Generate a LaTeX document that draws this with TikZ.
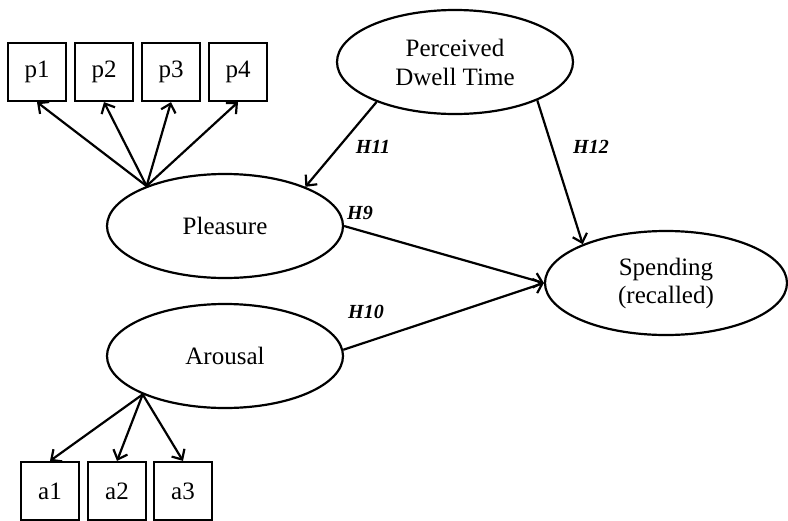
\documentclass[tikz,border=0pt]{standalone}
\usepackage{fontspec}
\setmainfont{Liberation Serif}
\usetikzlibrary{arrows.meta,shapes}
\tikzset{
  latent/.style = {ellipse, draw=black, line width=2.2pt, minimum width=236pt,
    minimum height=104pt, inner sep=0pt, align=center,
    font=\fontsize{25}{28}\selectfont},
  item/.style = {rectangle, draw=black, line width=2.2pt, minimum size=58pt,
    inner sep=0pt, font=\fontsize{25}{28}\selectfont},
  hyp/.style = {inner sep=0pt, font=\fontsize{20}{22}\selectfont\bfseries\itshape},
  dedge/.style = {draw, line width=2.2pt, -{Straight Barb[length=8pt,width=15pt]}},
}

\begin{document}
\begin{tikzpicture}[x=1pt,y=-1pt]
                    \path [use as bounding box] (0,0) rectangle (788,520);

                    % latent constructs
                    \node[latent] (dw) at (455,62) {Perceived\\[1pt]Dwell Time};
                    \node[latent] (pl) at (225,226) {Pleasure};
                    \node[latent] (ar) at (225,356) {Arousal};
                    \node[latent, minimum width=242pt] (sp) at (666,283) {Spending\\(recalled)};

                    % indicators
                    \node[item] (p1) at (37,72) {p1};
                    \node[item] (p2) at (104,72) {p2};
                    \node[item] (p3) at (171,72) {p3};
                    \node[item] (p4) at (238,72) {p4};
                    \node[item] (a1) at (50,491) {a1};
                    \node[item] (a2) at (117,491) {a2};
                    \node[item] (a3) at (183,491) {a3};

                    \path[dedge] (pl.153) -- (p1.south);
                    \path[dedge] (pl.153) -- (p2.south);
                    \path[dedge] (pl.153) -- (p3.south);
                    \path[dedge] (pl.153) -- (p4.south);
                    \path[dedge] (ar.205) -- (a1.north);
                    \path[dedge] (ar.205) -- (a2.north);
                    \path[dedge] (ar.205) -- (a3.north);

                    % hypotheses
                    \path[dedge] (dw.207) -- (pl.26);
                    \path[dedge] (dw.335) -- (sp.155);
                    \path[dedge] (pl.east) -- (sp.west);
                    \path[dedge] (ar.3) -- (sp.west);

                    \node[hyp] (h11) at (373,147) {H11};
                    \node[hyp] (h12) at (591,147) {H12};
                    \node[hyp] (h9) at (360,213) {H9};
                    \node[hyp] (h10) at (366,312) {H10};
                \end{tikzpicture}
\end{document}
